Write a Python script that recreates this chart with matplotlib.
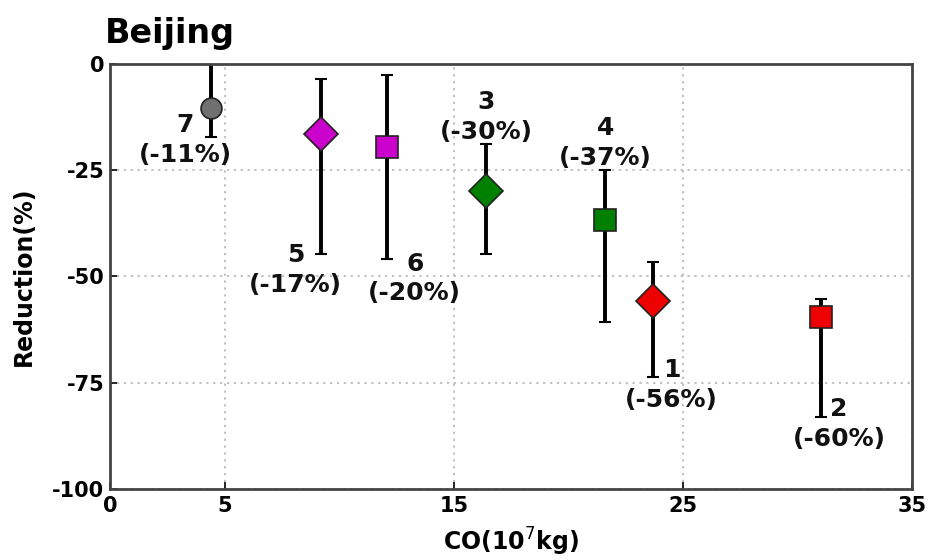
import numpy as np
import matplotlib.pyplot as plt

# case number, CO emission (10^7 kg), reduction (%) and error bar ends
ids = ['7', '5', '6', '3', '4', '1', '2']
co = [4.4, 9.2, 12.1, 16.4, 21.6, 23.7, 31.0]
reduction = [-10.5, -16.5, -19.5, -29.8, -36.8, -55.8, -59.5]
err_top = [0.0, -3.6, -2.6, -18.8, -25.0, -46.6, -55.3]
err_bottom = [-17.3, -44.7, -46.0, -44.7, -60.7, -73.6, -83.0]
pct_labels = ['(-11%)', '(-17%)', '(-20%)', '(-30%)', '(-37%)', '(-56%)', '(-60%)']
label_x = [3.3, 8.1, 13.3, 16.4, 21.6, 24.5, 31.8]
label_y = [-18.0, -48.5, -50.5, -12.5, -18.7, -75.6, -84.7]

colors = ['#707070', '#cc00cc', '#cc00cc', '#008000', '#008000', '#ee0000', '#ee0000']
markers = ['o', 'D', 's', 'D', 's', 'D', 's']

xticks = [0, 5, 15, 25, 35]
yticks = [0, -25, -50, -75, -100]

fig = plt.figure(figsize=(9.31, 5.6), dpi=100)
ax = fig.add_axes([0.118, 0.127, 0.862, 0.759])

for i in range(len(ids)):
    lo = reduction[i] - err_bottom[i]
    hi = err_top[i] - reduction[i]
    ax.errorbar(co[i], reduction[i], yerr=[[lo], [hi]], fmt='none',
                ecolor='black', elinewidth=2.8, capsize=4, capthick=1.5, zorder=2)
    size = {'o': 15, 'D': 17, 's': 16}[markers[i]]
    ax.plot(co[i], reduction[i], marker=markers[i], color=colors[i],
            markersize=size, markeredgecolor='#222222', markeredgewidth=1.2,
            linestyle='none', zorder=3, clip_on=False)
    ax.text(label_x[i], label_y[i], ids[i] + '\n' + pct_labels[i],
            ha='center', va='center', fontsize=18, fontweight='bold',
            color='#111111', linespacing=1.3, zorder=4)

ax.set_xlim(0, 35)
ax.set_ylim(-100, 0)
ax.set_xticks(xticks)
ax.set_yticks(yticks)
ax.set_xticklabels([str(t) for t in xticks], fontsize=15, fontweight='bold')
ax.set_yticklabels([str(t) for t in yticks], fontsize=15, fontweight='bold')
ax.tick_params(axis='x', direction='in', length=5, width=1.2, pad=5)
ax.tick_params(axis='y', direction='in', length=5, width=1.2, pad=4)

ax.grid(True, linestyle=(0, (1.5, 3)), color='#b0b0b0', linewidth=1.1)
for s in ax.spines.values():
    s.set_linewidth(2)
    s.set_color('#444444')

ax.set_xlabel('CO(10$^{7}$kg)', fontsize=17, fontweight='bold', labelpad=7)
ax.set_ylabel('Reduction(%)', fontsize=17, fontweight='bold', labelpad=12)
fig.text(0.113, 0.94, 'Beijing', fontsize=24, fontweight='bold', ha='left', va='center')

fig.savefig('out.png', dpi=100)
